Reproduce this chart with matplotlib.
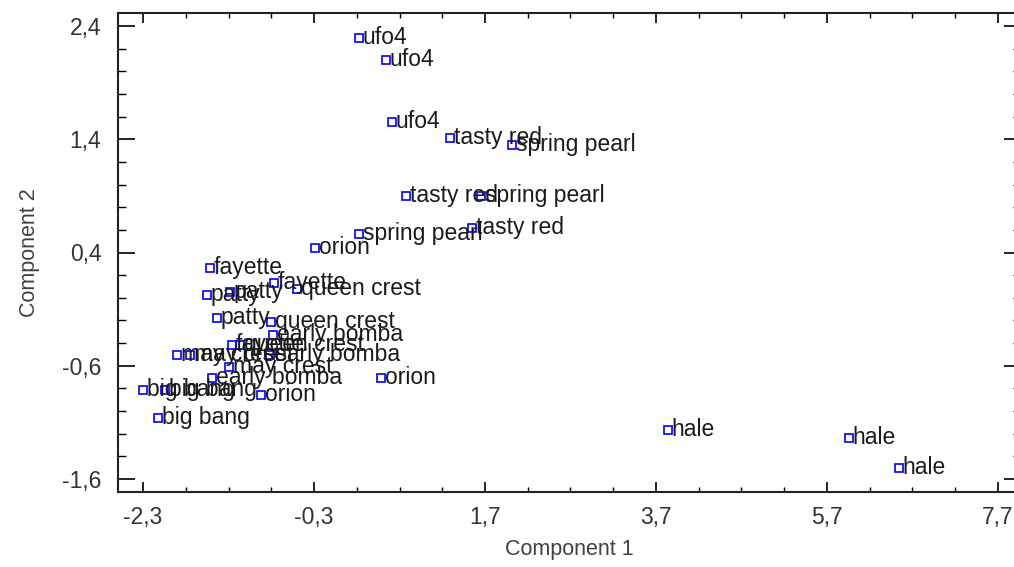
import numpy as np
import matplotlib
matplotlib.use("Agg")
import matplotlib.pyplot as plt
from matplotlib.ticker import FixedLocator, MultipleLocator, FuncFormatter

# component scores, 3 replicates per variety
labels = ["ufo4", "ufo4", "ufo4",
          "tasty red", "tasty red", "tasty red",
          "spring pearl", "spring pearl", "spring pearl",
          "orion", "orion", "orion",
          "fayette", "fayette", "fayette",
          "patty", "patty", "patty",
          "queen crest", "queen crest", "queen crest",
          "early bomba", "early bomba", "early bomba",
          "may crest", "may crest", "may crest",
          "big bang", "big bang", "big bang",
          "hale", "hale", "hale"]
comp1 = [0.229, 0.545, 0.616,
         1.295, 0.780, 1.553,
         2.021, 1.658, 0.229,
         -0.286, 0.487, -0.918,
         -1.515, -0.766, -1.258,
         -1.281, -1.551, -1.433,
         -0.497, -0.801, -1.164,
         -0.778, -0.813, -1.492,
         -1.902, -1.750, -1.293,
         -2.300, -2.042, -2.124,
         3.836, 5.955, 6.540]
comp2 = [2.294, 2.100, 1.552,
         1.411, 0.899, 0.616,
         1.349, 0.899, 0.563,
         0.440, -0.708, -0.858,
         0.263, 0.131, -0.417,
         0.051, 0.025, -0.178,
         0.078, -0.214, -0.417,
         -0.328, -0.505, -0.708,
         -0.505, -0.505, -0.611,
         -0.814, -0.814, -1.061,
         -1.167, -1.238, -1.503]

xticks = [-2.3, -0.3, 1.7, 3.7, 5.7, 7.7]
yticks = [-1.6, -0.6, 0.4, 1.4, 2.4]

plt.rcParams['font.family'] = ['Liberation Sans', 'DejaVu Sans']

fig = plt.figure(figsize=(10.14, 5.67), dpi=100)
ax = fig.add_axes([118 / 1014, 1 - 492 / 567, (1021 - 118) / 1014, (492 - 13) / 567])

ax.plot(comp1, comp2, linestyle='none', marker='s', markersize=6,
        markerfacecolor='none', markeredgecolor='#0000ff', markeredgewidth=1.2)
for name, x, y in zip(labels, comp1, comp2):
    ax.annotate(name, (x, y), xytext=(2.5, 0.5), textcoords='offset points',
                ha='left', va='center', fontsize=16.5, color='#1a1a1a')

ax.set_xlim(-2.593, 7.97)
ax.set_ylim(-1.715, 2.515)

ax.xaxis.set_major_locator(FixedLocator(xticks))
ax.xaxis.set_minor_locator(MultipleLocator(0.5, offset=0.2))
ax.yaxis.set_major_locator(FixedLocator(yticks))
ax.yaxis.set_minor_locator(MultipleLocator(0.2))
fmt = FuncFormatter(lambda v, p: f"{v:.1f}".replace('.', ','))
ax.xaxis.set_major_formatter(fmt)
ax.yaxis.set_major_formatter(fmt)

ax.tick_params(axis='x', which='both', direction='in', top=True, bottom=True,
               labelsize=16.5, labelcolor='#333333', pad=10)
ax.tick_params(axis='x', which='major', length=7, width=1.2)
ax.tick_params(axis='x', which='minor', length=3.5, width=1)
ax.tick_params(axis='y', which='both', direction='in', left=True, right=True,
               labelsize=16.5, labelcolor='#333333', pad=12)
ax.tick_params(axis='y', which='major', length=12, width=1.2)
ax.tick_params(axis='y', which='minor', length=6, width=1)
for s in ax.spines.values():
    s.set_linewidth(1.5)
    s.set_color('#222222')

ax.set_xlabel("Component 1", fontsize=15.5, color='#404040', labelpad=7)
ax.set_ylabel("Component 2", fontsize=15.5, color='#404040', labelpad=16)

fig.savefig("out.png", dpi=100)
